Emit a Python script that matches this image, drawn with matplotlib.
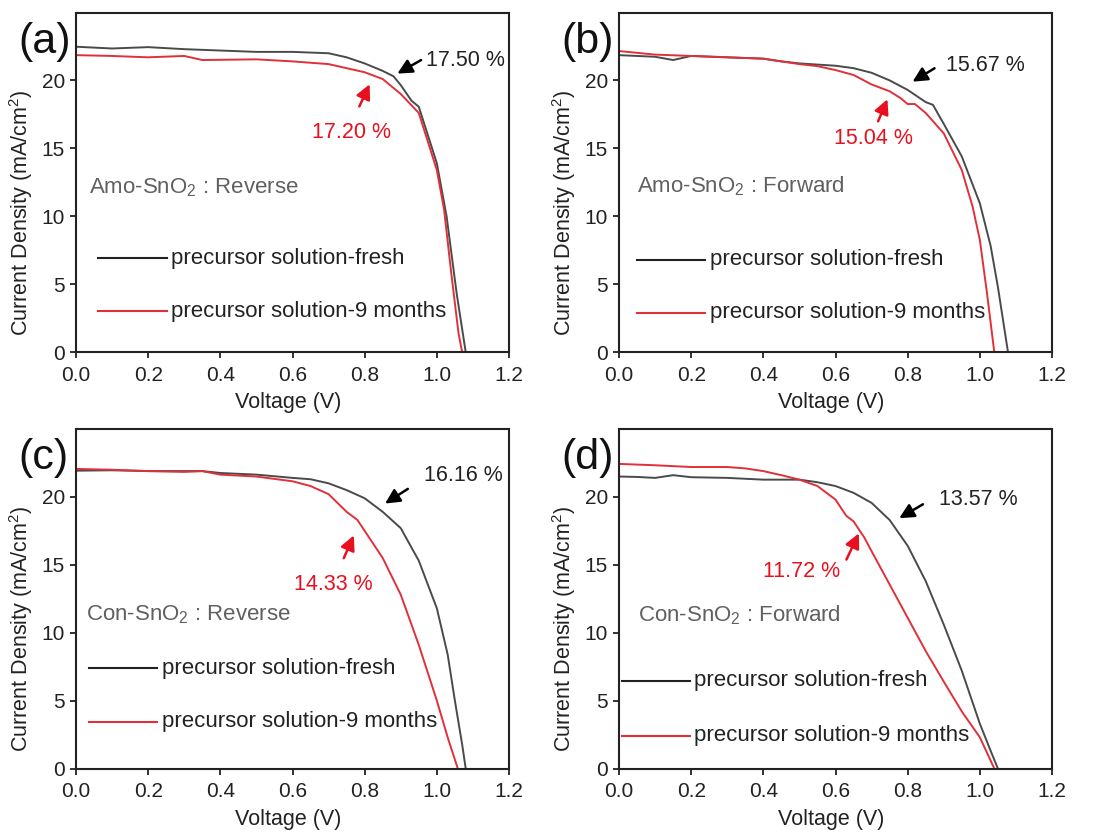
import matplotlib
matplotlib.use("Agg")
import matplotlib.pyplot as plt

plt.rcParams['font.family'] = ['Liberation Sans', 'DejaVu Sans']
plt.rcParams['mathtext.default'] = 'regular'

# (a) Amo-SnO2 reverse
a_v_fresh = [0.0, 0.1, 0.2, 0.3, 0.4, 0.5, 0.6, 0.7, 0.75, 0.8, 0.85, 0.88, 0.9, 0.93, 0.95, 1.0, 1.027, 1.055, 1.08]
a_j_fresh = [22.48, 22.35, 22.45, 22.3, 22.2, 22.1, 22.1, 22.0, 21.7, 21.25, 20.7, 20.3, 19.65, 18.5, 18.06, 13.9, 10.0, 4.3, 0.0]
a_v_aged = [0.0, 0.1, 0.2, 0.3, 0.35, 0.5, 0.6, 0.7, 0.8, 0.85, 0.9, 0.95, 1.0, 1.02, 1.04, 1.06, 1.07]
a_j_aged = [21.86, 21.8, 21.7, 21.8, 21.5, 21.55, 21.4, 21.2, 20.6, 20.1, 19.0, 17.6, 13.4, 10.5, 5.8, 1.4, 0.0]

# (b) Amo-SnO2 forward
b_v_fresh = [0.0, 0.1, 0.15, 0.2, 0.3, 0.4, 0.45, 0.5, 0.6, 0.65, 0.7, 0.75, 0.8, 0.85, 0.87, 0.9, 0.95, 1.0, 1.03, 1.05, 1.078]
b_j_fresh = [21.86, 21.74, 21.5, 21.8, 21.7, 21.6, 21.4, 21.25, 21.08, 20.9, 20.56, 20.0, 19.3, 18.4, 18.2, 16.8, 14.4, 10.95, 7.8, 4.8, 0.0]
b_v_aged = [0.0, 0.1, 0.2, 0.3, 0.4, 0.5, 0.55, 0.6, 0.65, 0.7, 0.75, 0.78, 0.8, 0.82, 0.85, 0.9, 0.95, 0.98, 1.0, 1.02, 1.04]
b_j_aged = [22.16, 21.9, 21.8, 21.7, 21.6, 21.2, 21.05, 20.76, 20.4, 19.7, 19.2, 18.7, 18.26, 18.26, 17.6, 16.1, 13.4, 10.7, 8.26, 4.3, 0.0]

# (c) Con-SnO2 reverse
c_v_fresh = [0.0, 0.1, 0.2, 0.3, 0.35, 0.4, 0.5, 0.6, 0.65, 0.7, 0.75, 0.8, 0.85, 0.9, 0.95, 1.0, 1.03, 1.05, 1.07, 1.08]
c_j_fresh = [21.93, 21.96, 21.9, 21.9, 21.9, 21.76, 21.64, 21.4, 21.3, 21.0, 20.5, 19.9, 18.9, 17.7, 15.3, 11.8, 8.4, 5.0, 1.8, 0.0]
c_v_aged = [0.0, 0.1, 0.2, 0.3, 0.35, 0.4, 0.5, 0.6, 0.65, 0.7, 0.75, 0.78, 0.8, 0.85, 0.9, 0.95, 1.0, 1.03, 1.058]
c_j_aged = [22.06, 22.0, 21.9, 21.84, 21.9, 21.64, 21.5, 21.15, 20.8, 20.2, 18.9, 18.3, 17.5, 15.5, 12.8, 9.1, 5.0, 2.3, 0.0]

# (d) Con-SnO2 forward
d_v_fresh = [0.0, 0.05, 0.1, 0.15, 0.2, 0.3, 0.4, 0.5, 0.55, 0.6, 0.65, 0.7, 0.75, 0.8, 0.85, 0.9, 0.95, 1.0, 1.03, 1.05]
d_j_fresh = [21.5, 21.47, 21.4, 21.6, 21.45, 21.4, 21.27, 21.27, 21.08, 20.8, 20.3, 19.56, 18.3, 16.4, 13.8, 10.6, 7.2, 3.3, 1.3, 0.0]
d_v_aged = [0.0, 0.05, 0.1, 0.2, 0.3, 0.35, 0.4, 0.45, 0.5, 0.55, 0.6, 0.63, 0.65, 0.68, 0.7, 0.75, 0.8, 0.85, 0.9, 0.95, 1.0, 1.04]
d_j_aged = [22.43, 22.38, 22.33, 22.2, 22.2, 22.1, 21.9, 21.6, 21.27, 20.8, 19.8, 18.6, 18.2, 17.0, 16.0, 13.55, 11.1, 8.65, 6.4, 4.2, 2.3, 0.0]

labels = ['(a)', '(b)', '(c)', '(d)']
conditions = ['Amo-SnO$_2$ : Reverse', 'Amo-SnO$_2$ : Forward', 'Con-SnO$_2$ : Reverse', 'Con-SnO$_2$ : Forward']
pce_fresh = ['17.50 %', '15.67 %', '16.16 %', '13.57 %']
pce_aged = ['17.20 %', '15.04 %', '14.33 %', '11.72 %']
series_names = ['precursor solution-fresh', 'precursor solution-9 months']

black = '#4a4a4a'
red = '#e0303a'
ink = '#222222'

fig = plt.figure(figsize=(10.96, 8.34), dpi=100)
boxes = [(76, 12.5), (619, 12.5), (76, 429), (619, 429)]
W, H = 1096, 834
axes = []
for (x0, y0) in boxes:
    ax = fig.add_axes([x0 / W, 1 - (y0 + 339.5) / H, 433 / W, 339.5 / H])
    axes.append(ax)

data = [
    (a_v_fresh, a_j_fresh, a_v_aged, a_j_aged),
    (b_v_fresh, b_j_fresh, b_v_aged, b_j_aged),
    (c_v_fresh, c_j_fresh, c_v_aged, c_j_aged),
    (d_v_fresh, d_j_fresh, d_v_aged, d_j_aged),
]

# annotation positions: (text xy, arrow tail, arrow tip)
ann_fresh = [((0.97, 21.5), (0.963, 21.6), (0.884, 20.4)),
             ((0.905, 21.1), (0.881, 21.0), (0.807, 19.8)),
             ((0.965, 21.6), (0.926, 20.7), (0.85, 19.4)),
             ((0.888, 19.8), (0.849, 19.56), (0.77, 18.33))]
ann_aged = [((0.764, 16.2), (0.782, 17.9), (0.817, 19.9)),
            ((0.705, 15.7), (0.715, 16.8), (0.747, 18.8)),
            ((0.713, 13.55), (0.739, 15.3), (0.773, 17.35)),
            ((0.507, 14.5), (0.627, 15.2), (0.668, 17.5))]
cond_pos = [(0.037, 12.1), (0.049, 12.2), (0.027, 11.3), (0.054, 11.3)]
leg_pos = [(0.062, 0.251, 6.9, 3.0), (0.049, 0.239, 6.8, 2.9),
           (0.037, 0.225, 7.4, 3.46), (0.009, 0.197, 6.45, 2.4)]
label_px = [(18, 42), (561, 42), (18, 458), (561, 458)]

for i, ax in enumerate(axes):
    vf, jf, va, ja = data[i]
    ax.plot(vf, jf, color=black, lw=1.4)
    ax.plot(va, ja, color=red, lw=1.4)
    ax.set_xlim(0, 1.2)
    ax.set_ylim(0, 25)
    ax.set_xticks([0.0, 0.2, 0.4, 0.6, 0.8, 1.0, 1.2])
    ax.set_xticklabels(['0.0', '0.2', '0.4', '0.6', '0.8', '1.0', '1.2'])
    ax.set_yticks([0, 5, 10, 15, 20])
    ax.tick_params(direction='out', length=4, width=1.3, labelsize=15, colors=ink)
    ax.tick_params(axis='x', pad=6)
    ax.tick_params(axis='y', pad=4)
    for s in ax.spines.values():
        s.set_linewidth(1.5)
        s.set_color(ink)
    ax.set_xlabel('Voltage (V)', fontsize=15.5, color=ink)
    ax.xaxis.set_label_coords(0.49, -0.118)
    ax.set_ylabel('Current Density (mA/cm$^2$)', fontsize=15.5, color=ink)
    ax.yaxis.set_label_coords(-0.095, 0.41)

    # efficiency labels with arrows
    (tx, ty), tail, tip = ann_fresh[i]
    ax.text(tx, ty, pce_fresh[i], fontsize=15.5, color=ink, ha='left', va='center')
    ax.annotate('', xy=tip, xytext=tail,
                arrowprops=dict(arrowstyle='-|>', color='black', lw=1.8, mutation_scale=22))
    (tx, ty), tail, tip = ann_aged[i]
    ax.text(tx, ty, pce_aged[i], fontsize=15.5, color='#e8101e', ha='center', va='center')
    ax.annotate('', xy=tip, xytext=tail,
                arrowprops=dict(arrowstyle='-|>', color='#e8101e', lw=1.8, mutation_scale=22))

    cx, cy = cond_pos[i]
    ax.text(cx, cy, conditions[i], fontsize=16, color='#606060', ha='left', va='center')

    lx0, lx1, ly0, ly1 = leg_pos[i]
    ax.plot([lx0, lx1], [ly0, ly0], color=ink, lw=1.5)
    ax.plot([lx0, lx1], [ly1, ly1], color=red, lw=1.5)
    ax.text(lx1 + 0.012, ly0, series_names[0], fontsize=16, color=ink, ha='left', va='center')
    ax.text(lx1 + 0.012, ly1, series_names[1], fontsize=16, color=ink, ha='left', va='center')

    px, py = label_px[i]
    fig.text(px / W, 1 - py / H, labels[i], fontsize=31, color='#111111', ha='left', va='center')

fig.savefig('out.png', dpi=100)
